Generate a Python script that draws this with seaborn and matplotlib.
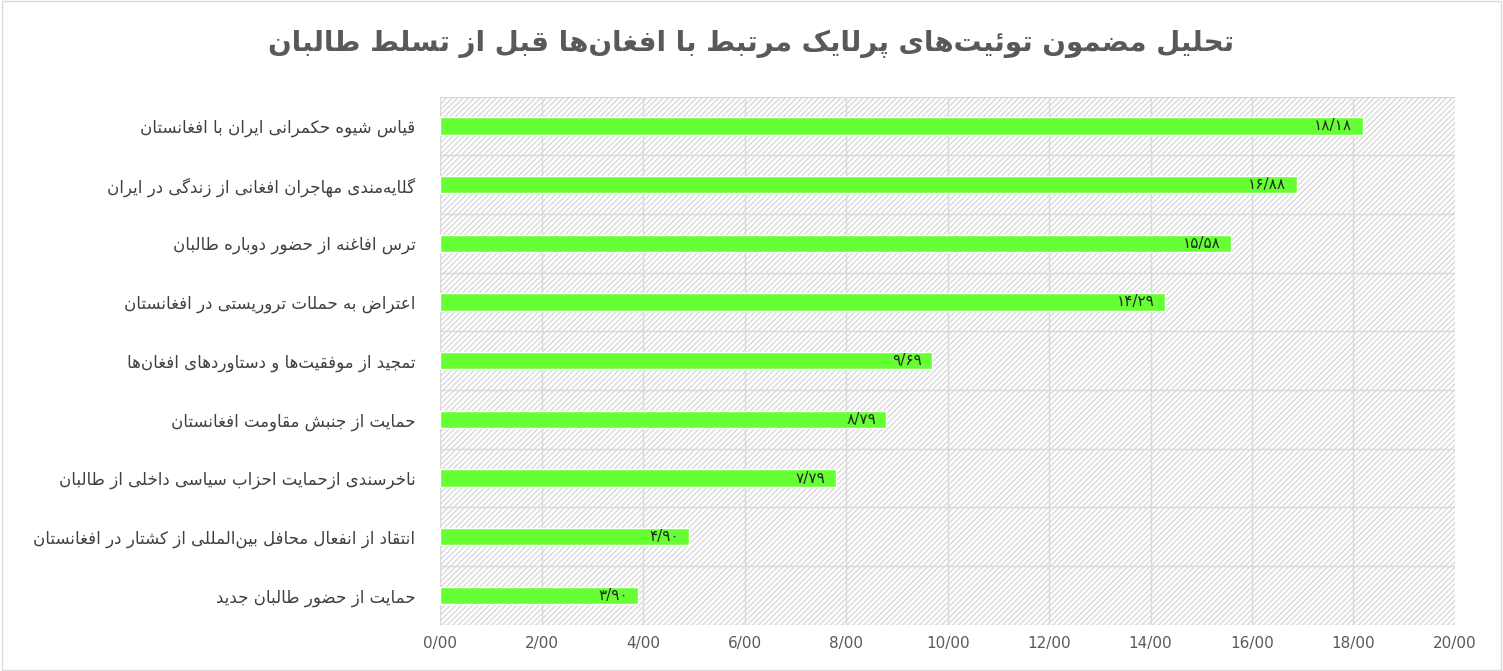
import matplotlib
matplotlib.use("Agg")
import matplotlib.pyplot as plt
import seaborn as sns
import pandas as pd
from matplotlib.patches import Rectangle

# ── Data ──────────────────────────────────────────────────────────────────────
title = "تحلیل مضمون توئیت‌های پرلایک مرتبط با افغان‌ها قبل از تسلط طالبان"
categories = [
    "قیاس شیوه حکمرانی ایران با افغانستان",
    "گلایه‌مندی مهاجران افغانی از زندگی در ایران",
    "ترس افاغنه از حضور دوباره طالبان",
    "اعتراض به حملات تروریستی در افغانستان",
    "تمجید از موفقیت‌ها و دستاوردهای افغان‌ها",
    "حمایت از جنبش مقاومت افغانستان",
    "ناخرسندی ازحمایت احزاب سیاسی داخلی از طالبان",
    "انتقاد از انفعال محافل بین‌المللی از کشتار در افغانستان",
    "حمایت از حضور طالبان جدید",
]
values = [18.18, 16.88, 15.58, 14.29, 9.69, 8.79, 7.79, 4.90, 3.90]
xticks = [0, 2, 4, 6, 8, 10, 12, 14, 16, 18, 20]

# ── Minimal Persian shaping (matplotlib has no bidi/shaping) ─────────────────
F = {
    "ا": (0xFE8D, 0xFE8E), "آ": (0xFE81, 0xFE82), "د": (0xFEA9, 0xFEAA),
    "ذ": (0xFEAB, 0xFEAC), "ر": (0xFEAD, 0xFEAE), "ز": (0xFEAF, 0xFEB0),
    "ژ": (0xFB8A, 0xFB8B), "و": (0xFEED, 0xFEEE),
    "ب": (0xFE8F, 0xFE90, 0xFE91, 0xFE92), "پ": (0xFB56, 0xFB57, 0xFB58, 0xFB59),
    "ت": (0xFE95, 0xFE96, 0xFE97, 0xFE98), "ث": (0xFE99, 0xFE9A, 0xFE9B, 0xFE9C),
    "ج": (0xFE9D, 0xFE9E, 0xFE9F, 0xFEA0), "چ": (0xFB7A, 0xFB7B, 0xFB7C, 0xFB7D),
    "ح": (0xFEA1, 0xFEA2, 0xFEA3, 0xFEA4), "خ": (0xFEA5, 0xFEA6, 0xFEA7, 0xFEA8),
    "س": (0xFEB1, 0xFEB2, 0xFEB3, 0xFEB4), "ش": (0xFEB5, 0xFEB6, 0xFEB7, 0xFEB8),
    "ص": (0xFEB9, 0xFEBA, 0xFEBB, 0xFEBC), "ض": (0xFEBD, 0xFEBE, 0xFEBF, 0xFEC0),
    "ط": (0xFEC1, 0xFEC2, 0xFEC3, 0xFEC4), "ظ": (0xFEC5, 0xFEC6, 0xFEC7, 0xFEC8),
    "ع": (0xFEC9, 0xFECA, 0xFECB, 0xFECC), "غ": (0xFECD, 0xFECE, 0xFECF, 0xFED0),
    "ف": (0xFED1, 0xFED2, 0xFED3, 0xFED4), "ق": (0xFED5, 0xFED6, 0xFED7, 0xFED8),
    "ک": (0xFB8E, 0xFB8F, 0xFB90, 0xFB91), "گ": (0xFB92, 0xFB93, 0xFB94, 0xFB95),
    "ل": (0xFEDD, 0xFEDE, 0xFEDF, 0xFEE0), "م": (0xFEE1, 0xFEE2, 0xFEE3, 0xFEE4),
    "ن": (0xFEE5, 0xFEE6, 0xFEE7, 0xFEE8), "ه": (0xFEE9, 0xFEEA, 0xFEEB, 0xFEEC),
    "ی": (0xFBFC, 0xFBFD, 0xFBFE, 0xFBFF), "ئ": (0xFE89, 0xFE8A, 0xFE8B, 0xFE8C),
}


def fa(s):
    out = []
    for i, c in enumerate(s):
        if c == "\u200c":
            continue
        if c not in F:
            out.append(c)
            continue
        prev = s[i - 1] if i > 0 else ""
        nxt = s[i + 1] if i + 1 < len(s) else ""
        jp = prev in F and len(F[prev]) == 4
        jn = len(F[c]) == 4 and nxt in F
        if jp and jn:
            form = F[c][3]
        elif jp:
            form = F[c][1]
        elif jn:
            form = F[c][2]
        else:
            form = F[c][0]
        out.append(chr(form))
    return "".join(out)[::-1]


def fa_num(v):
    digits = "۰۱۲۳۴۵۶۷۸۹"
    t = f"{v:.2f}".replace(".", "/")
    return "".join(digits[int(ch)] if ch.isdigit() else ch for ch in t)


df = pd.DataFrame({"cat": [fa(c) for c in categories], "val": values})

# ── Plot ──────────────────────────────────────────────────────────────────────
sns.set_style("white")
plt.rcParams["font.family"] = ["DejaVu Sans", "Noto Sans"]

fig = plt.figure(figsize=(15.03, 6.71), dpi=100)
ax = fig.add_axes([0.293, 0.069, 0.675, 0.787])

ax.add_patch(Rectangle((0, -0.5), 20, len(values), facecolor="white",
                       edgecolor="#d9d9d9", hatch="//////", lw=0, zorder=0))
plt.rcParams["hatch.linewidth"] = 0.4

sns.barplot(data=df, x="val", y="cat", color="#66FF33", width=0.3,
            saturation=1, ax=ax, zorder=3)

for i, v in enumerate(values):
    ax.text(v - 0.2, i, fa_num(v), ha="right", va="center", fontsize=11,
            color="#262626", zorder=4)

ax.set_xlim(0, 20)
ax.set_ylim(len(values) - 0.5, -0.5)
ax.set_xticks(xticks)
ax.set_xticklabels([f"{t}/00" for t in xticks], fontsize=11, color="#595959")
ax.tick_params(axis="y", labelsize=12, colors="#404040", length=0, pad=18)
ax.tick_params(axis="x", length=0, pad=8)
for x in xticks:
    ax.axvline(x, color="#d9d9d9", lw=1, zorder=1)
for y in range(len(values) + 1):
    ax.axhline(y - 0.5, color="#d9d9d9", lw=1, zorder=1)
ax.set_xlabel("")
ax.set_ylabel("")
for s in ax.spines.values():
    s.set_visible(False)

fig.text(0.5, 0.935, fa(title), ha="center", va="center", fontsize=20,
         fontweight="bold", color="#595959")
fig.patches.append(Rectangle((0.001, 0.001), 0.998, 0.997, transform=fig.transFigure,
                             fill=False, edgecolor="#d9d9d9", lw=1))

plt.savefig("out.png", dpi=100)
